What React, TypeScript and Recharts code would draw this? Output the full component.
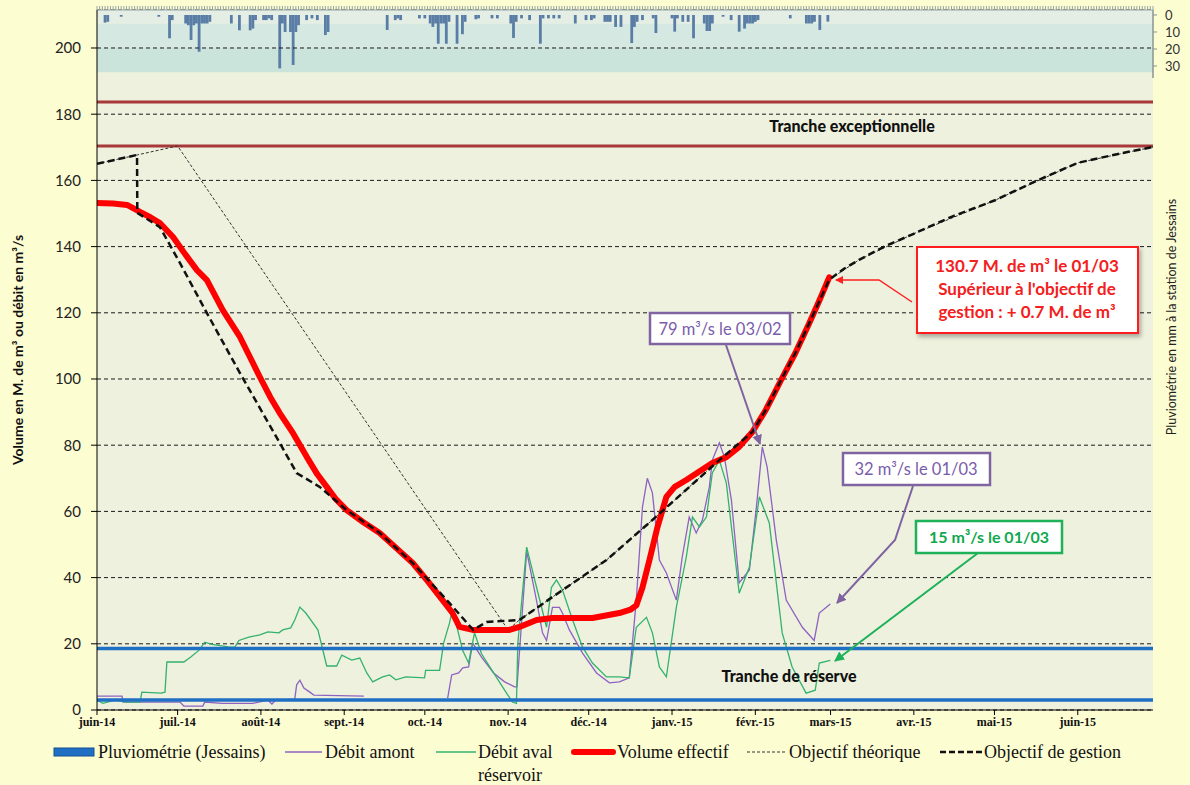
import React from 'react';
import { ComposedChart, Bar, Line, XAxis, YAxis, CartesianGrid, ReferenceLine, ReferenceArea } from 'recharts';

// x values are days counted from 1 June 2014
const monthTicks = [0, 30, 61, 92, 122, 153, 183, 214, 245, 273, 304, 334, 365];
const monthLabels = ['juin-14', 'juil.-14', 'août-14', 'sept.-14', 'oct.-14', 'nov.-14', 'déc.-14', 'janv.-15', 'févr.-15', 'mars-15', 'avr.-15', 'mai-15', 'juin-15'];
const volumeTicks = [0, 20, 40, 60, 80, 100, 120, 140, 160, 180, 200];
const rainTicks = [0, 10, 20, 30];
const dayTicks = Array.from({ length: 394 }, (_, i) => i);

// daily rain in mm (Jessains), only the rainy days
const rainfall: [number, number][] = [
  [3, 4.5], [4, 4], [9, 1], [23, 1], [27, 13.7], [28, 3],
  [33, 5], [34, 6], [35, 14.7], [36, 6], [37, 5], [38, 21.6], [39, 5], [40, 5], [41, 5], [42, 4],
  [50, 5], [53, 9], [57, 9], [58, 8], [59, 3],
  [62, 3], [63, 3], [64, 2], [65, 3],
  [68, 31.4], [69, 5], [70, 10], [72, 10], [73, 29.4], [74, 10], [75, 6],
  [78, 3], [80, 2], [82, 3], [85, 11.8], [86, 10],
  [108, 8.8], [111, 3], [112, 2], [113, 3],
  [120, 2], [122, 2], [124, 5], [125, 7], [126, 5], [127, 16.9], [128, 5], [129, 5], [130, 16.9], [131, 4], [134, 16.9], [136, 11.3], [137, 4],
  [141, 2.5], [142, 2], [147, 2], [149, 2],
  [154, 5], [155, 13.5], [156, 4], [158, 2], [161, 3], [165, 16.9], [166, 2], [168, 2], [170, 2], [172, 2],
  [178, 5], [182, 3], [184, 3], [185, 2], [189, 4], [190, 4], [191, 4], [193, 7], [195, 7],
  [199, 16.5], [200, 7], [201, 4], [203, 3],
  [207, 2], [208, 10.6], [214, 2], [215, 9.8], [216, 2], [218, 4], [220, 4], [222, 13.7],
  [226, 5], [227, 9.4], [228, 9.4], [229, 5], [233, 1], [236, 3], [239, 9.8],
  [241, 8], [242, 5], [243, 5], [244, 5], [245, 4], [246, 3],
  [258, 2], [264, 5], [265, 5], [266, 5], [267, 4], [269, 8.8], [272, 3.9],
];

// Volume effectif (M. de m3)
const volumeEffectif: [number, number][] = [
  [0, 153.2], [6, 153], [11.2, 152.6], [16, 150.5], [20, 148.8], [23.4, 147.1], [28.3, 142.9], [33, 137.5],
  [37.2, 132.9], [40.9, 129.9], [46.8, 120.8], [53.2, 112.7], [57, 106.5], [60.6, 100.6], [64.5, 94.5],
  [68, 89.7], [72.9, 83.7], [78.1, 76.4], [82, 71.2], [85.5, 67.4], [89, 63.6],
  [92.9, 60.4], [99, 56.8], [105.2, 53.5], [111, 49.2], [117.5, 44.4], [123, 39], [128.6, 33.2], [132.3, 29.3],
  [134.9, 25.1], [139.8, 24.2], [153.5, 24.2], [157.2, 25.1], [163.6, 27.2], [169.5, 27.8], [184.4, 27.8],
  [194.4, 29.3], [198.5, 30.3], [200.7, 31.6], [203, 37], [205.6, 45.3], [208.5, 55], [211.9, 64.4],
  [215, 67.4], [219.3, 69.5], [224, 72], [229, 74.6], [234.2, 76.4], [239, 79.5], [243.9, 84],
  [249, 90.8], [254.6, 99.7], [260, 108], [265.1, 116.9], [269, 124], [272.5, 130.7],
];

// Objectif de gestion
const objectifGestion: [number, number][] = [
  [0, 165], [14.9, 167.7], [15, 150.2], [23.4, 145.9], [30.9, 135], [40.9, 119.9], [53.2, 101.8],
  [68, 80.7], [74.3, 71.6], [82.9, 67.4], [92.9, 60.4], [105.2, 53.5], [117.5, 44.4], [131.2, 32.3],
  [140, 24.2], [145, 26.6], [157.2, 27.2], [172.1, 35.6], [189.6, 45.3], [206.7, 57.4], [231.6, 75.5],
  [243.9, 84], [249, 90.8], [254.6, 99.7], [260, 108], [265.1, 116.9], [272.5, 130], [278, 133.3],
  [283.6, 136], [293, 140], [303.7, 143.8], [318, 149], [334.2, 154], [350, 160], [365, 165.3],
  [380, 168], [393, 170.1],
];

// Objectif théorique
const objectifTheorique: [number, number][] = [
  [0, 165], [15, 167.7], [30, 170.4], [153, 24.2], [157.2, 27.2], [172.1, 35.6], [189.6, 45.3],
  [206.7, 57.4], [231.6, 75.5], [243.9, 84], [254.6, 99.7], [265.1, 116.9], [272.5, 130], [283.6, 136],
  [303.7, 143.8], [334.2, 154], [365, 165.3], [393, 170.1],
];

// Débit amont (m3/s)
const debitAmont: [number, number | null][] = [
  [0, 4.2], [9.3, 4.2], [9.7, 2.4], [30.9, 2.4], [32.3, 1.2], [39.4, 1.2], [40.1, 2.4], [46.5, 2],
  [58, 2], [63.6, 3], [65.1, 1.8], [66.5, 3], [73.6, 3.3], [74.3, 7.6], [75.5, 9], [77, 6.6],
  [79.2, 5.4], [80.7, 4.5], [99.3, 4.2], [115, null],
  [130.5, 3.6], [132, 10.6], [134.6, 11.2], [136.1, 12.7], [138.3, 13], [139.8, 20.2], [143.1, 16],
  [147.6, 11.2], [151.7, 8.5], [155.4, 7], [156.3, 7], [159.9, 48], [163.6, 33], [165.8, 23.3],
  [167.3, 21], [169.5, 31], [172.1, 31], [173.2, 29.3], [175.8, 24.2], [180.7, 17.2], [185.9, 11.2],
  [190.7, 8.2], [194.4, 8.5], [198.1, 9.7], [200.7, 33.2], [203, 61.3], [204.8, 70], [206.7, 65.6],
  [209.3, 45.3], [211.9, 41.4], [215.6, 33.2], [217.8, 46.2], [220.4, 58.3], [223, 53.5], [225.3, 57.4],
  [227.9, 67.4], [229, 75.5], [231.6, 80.7], [233.5, 76.4], [236.1, 63.4], [239, 38.4], [242.8, 42.3],
  [245.4, 61.3], [247.6, 79.5], [249.4, 73.4], [252.8, 51.4], [256.5, 33.2], [262.5, 25], [266.9, 21],
  [268.8, 29.3], [272.9, 32],
];

// Débit aval réservoir (m3/s)
const debitAval: [number, number][] = [
  [0, 3], [2.2, 2], [6.7, 3], [10.8, 2.4], [16, 2.4], [16.7, 5.4], [23.8, 5.1], [25.3, 5.4], [26, 14.5],
  [32.3, 14.5], [34.9, 16], [37.9, 18], [40.1, 20.5], [42.8, 19.8], [49.4, 19], [51.3, 19], [52.8, 21],
  [56.5, 22], [60.6, 22.7], [63.6, 23.6], [67.7, 23.3], [69.1, 24.2], [72.1, 24.8], [73.6, 27.2],
  [75.5, 31.1], [77.7, 29.3], [82.2, 24.2], [85.5, 13.3], [89.2, 13.3], [91.1, 16.6], [94.8, 15.1],
  [97.8, 15.7], [100.4, 11.2], [102.6, 8.5], [106.3, 10], [108.9, 10.6], [111.2, 9.1], [114.9, 10],
  [121.9, 9.7], [122.3, 12], [127.5, 12], [129, 20.2], [131.2, 26.3], [132.3, 30.5], [136.1, 18],
  [138.3, 14.2], [140.5, 23.3], [143.1, 17], [147.6, 11.2], [151.7, 6], [154.6, 2.4], [156.1, 2],
  [156.6, 20], [159.9, 49.2], [163.6, 37], [167.3, 25], [169.1, 37], [171, 39.3], [173.2, 36.3],
  [177, 27.2], [180.7, 19], [184.4, 14.2], [189.6, 10], [194.4, 10], [198.1, 9.7], [200.7, 25],
  [204.5, 28], [206.7, 23.3], [209.3, 13], [211.9, 10], [215.6, 31], [219.3, 46.2], [221.6, 58.3],
  [224.2, 55.3], [226.8, 58.3], [229, 71.6], [231.6, 75.5], [234.2, 68.6], [239, 35.3], [242.8, 43.2],
  [246.5, 64.4], [250.2, 56.5], [255, 23.3], [258.7, 13], [263.9, 5.1], [267.3, 6], [268.8, 14.2],
  [272.9, 15],
];

// reservoir bands (M. de m3)
const trancheExceptionnelle = [170.4, 183.7];
const trancheReserve = [3.0, 18.6];

const toRows = (pts: [number, number | null][]) => pts.map(([day, v]) => ({ day, v }));
const rainRows = rainfall.map(([day, mm]) => ({ day, rain: mm }));

const W = 1190;
const H = 785;
const PURPLE = '#8E62C2';
const GREEN = '#33B26E';
const BLUE = '#1F6FC5';
const BROWN = '#A8393A';
const RAIN = '#5A7DA6';

const fmtMonth = (v: number) => {
  const i = monthTicks.indexOf(v);
  return i >= 0 ? monthLabels[i] : '';
};

// one day wide bar, centred on the position recharts gives
const RainBar = (p: any) => {
  if (p.x == null || p.y == null) return null;
  const cx = p.x + (p.width || 0) / 2;
  const top = Math.min(p.y, p.y + p.height);
  const h = Math.abs(p.height);
  return <rect x={cx - 1.4} y={top} width={2.8} height={h} fill={RAIN} />;
};

export default function App() {
  const serif = '"Liberation Serif", "DejaVu Serif", serif';
  const sans = 'Lato, "Open Sans", sans-serif';
  return (
    <div style={{ position: 'absolute', left: 0, top: 0, width: W, height: H, background: '#FDFDD2', overflow: 'hidden' }}>
      <ComposedChart
        width={W}
        height={H}
        data={rainRows}
        margin={{ top: 6, right: 5, bottom: 50, left: 57 }}
        barGap={0}
        barCategoryGap={0}
      >
        <CartesianGrid yAxisId="left" vertical={false} stroke="#1a1a1a" strokeDasharray="4 3" fill="#EEF1DD" fillOpacity={1} />
        <ReferenceArea yAxisId="left" y1={207.3} y2={211.48} fill="#E4EEE5" fillOpacity={1} stroke="none" ifOverflow="visible" />
        <ReferenceArea yAxisId="left" y1={200} y2={207.3} fill="#D5E9E2" fillOpacity={1} stroke="none" />
        <ReferenceArea yAxisId="left" y1={192.7} y2={200} fill="#CAE4DC" fillOpacity={1} stroke="none" />
        <ReferenceLine yAxisId="left" y={200} stroke="#1a1a1a" strokeDasharray="4 3" />
        <XAxis
          dataKey="day"
          type="number"
          domain={[0, 393]}
          allowDataOverflow
          ticks={monthTicks}
          interval={0}
          tickFormatter={fmtMonth}
          height={25}
          stroke="#000"
          tickSize={5}
          tickMargin={2}
          tick={{ fontSize: 12, fontWeight: 'bold', fontFamily: serif, fill: '#111' }}
        />
        <XAxis
          xAxisId="top"
          orientation="top"
          dataKey="day"
          type="number"
          domain={[0, 393]}
          ticks={dayTicks}
          interval={0}
          tickFormatter={() => ''}
          tick={{ fontSize: 1 }}
          tickLine={{ stroke: '#95A3A3' }}
          axisLine={{ stroke: '#95A3A3' }}
          height={4}
          tickSize={4}
          tickMargin={0}
        />
        <YAxis
          yAxisId="left"
          type="number"
          domain={[0, 211.48]}
          allowDataOverflow
          ticks={volumeTicks}
          interval={0}
          width={40}
          stroke="#000"
          tickSize={6}
          tickMargin={10}
          tick={{ fontSize: 15, fontFamily: sans, fill: '#222' }}
        />
        <YAxis
          yAxisId="rain"
          orientation="right"
          type="number"
          reversed
          domain={[-2.94, 408.8]}
          allowDataOverflow
          ticks={rainTicks}
          interval={0}
          width={32}
          axisLine={false}
          stroke="#8A9494"
          tickSize={4}
          tickMargin={8}
          tick={{ fontSize: 13, fontFamily: sans, fill: '#333' }}
        />
        <ReferenceLine
          yAxisId="rain"
          segment={[{ x: 393, y: -2.94 }, { x: 393, y: 37 }]}
          stroke="#8A9494"
          strokeWidth={1.5}
        />
        <Bar yAxisId="rain" dataKey="rain" fill={RAIN} shape={RainBar} isAnimationActive={false} />
        <ReferenceLine yAxisId="left" y={trancheExceptionnelle[1]} stroke={BROWN} strokeWidth={3} />
        <ReferenceLine yAxisId="left" y={trancheExceptionnelle[0]} stroke={BROWN} strokeWidth={3} />
        <Line yAxisId="left" data={toRows(debitAmont)} dataKey="v" stroke={PURPLE} strokeWidth={1.3} dot={false} activeDot={false} isAnimationActive={false} />
        <Line yAxisId="left" data={toRows(debitAval)} dataKey="v" stroke={GREEN} strokeWidth={1.3} dot={false} activeDot={false} isAnimationActive={false} />
        <ReferenceLine yAxisId="left" y={trancheReserve[1]} stroke={BLUE} strokeWidth={3.5} />
        <ReferenceLine yAxisId="left" y={trancheReserve[0]} stroke={BLUE} strokeWidth={3.5} />
        <Line yAxisId="left" data={toRows(objectifTheorique)} dataKey="v" stroke="#333" strokeWidth={1} strokeDasharray="3 2" dot={false} activeDot={false} isAnimationActive={false} />
        <Line yAxisId="left" data={toRows(volumeEffectif)} dataKey="v" stroke="#FF0000" strokeWidth={6} strokeLinejoin="round" strokeLinecap="round" dot={false} activeDot={false} isAnimationActive={false} />
        <Line yAxisId="left" data={toRows(objectifGestion)} dataKey="v" stroke="#111" strokeWidth={2.5} strokeDasharray="7 4" dot={false} activeDot={false} isAnimationActive={false} />
      </ComposedChart>

      <svg width={W} height={H} style={{ position: 'absolute', left: 0, top: 0, pointerEvents: 'none' }}>
        <defs>
          <marker id="arR" markerWidth="8" markerHeight="8" refX="7" refY="4" orient="auto" markerUnits="userSpaceOnUse">
            <path d="M0,0 L8,4 L0,8 z" fill="#FF2020" />
          </marker>
          <marker id="arP" markerWidth="10" markerHeight="10" refX="9" refY="5" orient="auto" markerUnits="userSpaceOnUse">
            <path d="M0,0 L10,5 L0,10 z" fill="#8064A2" />
          </marker>
          <marker id="arG" markerWidth="10" markerHeight="10" refX="9" refY="5" orient="auto" markerUnits="userSpaceOnUse">
            <path d="M0,0 L10,5 L0,10 z" fill="#1DB15A" />
          </marker>
          <filter id="sh" x="-10%" y="-10%" width="130%" height="140%">
            <feDropShadow dx="2" dy="3" stdDeviation="2" floodColor="#000" floodOpacity="0.3" />
          </filter>
        </defs>

        {/* axis titles */}
        <text transform="translate(23,350) rotate(-90)" textAnchor="middle" fontFamily={sans} fontWeight="bold" fontSize={14} fill="#111">
          Volume en M. de m³ ou débit en m³/s
        </text>
        <text transform="translate(1176,317) rotate(-90)" textAnchor="middle" fontFamily={sans} fontSize={12.5} fill="#222">
          Pluviométrie en mm à la station de Jessains
        </text>

        {/* bands */}
        <text x={852} y={132} textAnchor="middle" fontFamily={sans} fontWeight="900" fontSize={16} fill="#111">Tranche exceptionnelle</text>
        <text x={789} y={682} textAnchor="middle" fontFamily={sans} fontWeight="900" fontSize={16} fill="#111">Tranche de réserve</text>

        {/* annotations */}
        <polyline points="912,302 879,280 836,280" fill="none" stroke="#FF2020" strokeWidth={1.5} markerEnd="url(#arR)" />
        <rect x={917} y={247} width={221} height={86} fill="#fff" stroke="#FF1A1A" strokeWidth={2} filter="url(#sh)" />
        <g fontFamily={sans} fontWeight="bold" fontSize={17} fill="#F42020" textAnchor="middle" xmlSpace="preserve">
          <text x={1027} y={272}>{'130.7 M. de m³  le  01/03'}</text>
          <text x={1027} y={295}>{"Supérieur à l'objectif de"}</text>
          <text x={1027} y={318}>{'gestion  : + 0.7 M. de m³'}</text>
        </g>

        <line x1={726} y1={345} x2={760} y2={444} stroke="#8064A2" strokeWidth={2} markerEnd="url(#arP)" />
        <rect x={650} y={313} width={140} height={31} fill="#fff" stroke="#8064A2" strokeWidth={2.5} />
        <text x={720} y={335} textAnchor="middle" fontFamily={sans} fontSize={16.5} fill="#7A5CAA">79 m³/s le 03/02</text>

        <polyline points="913,486 895,540 837,603" fill="none" stroke="#8064A2" strokeWidth={2} markerEnd="url(#arP)" />
        <rect x={843} y={453} width={147} height={32} fill="#fff" stroke="#8064A2" strokeWidth={2.5} />
        <text x={916} y={475} textAnchor="middle" fontFamily={sans} fontSize={16.5} fill="#7A5CAA">32 m³/s le 01/03</text>

        <line x1={978} y1={553} x2={835} y2={661} stroke="#1DB15A" strokeWidth={2} markerEnd="url(#arG)" />
        <rect x={916} y={521} width={146} height={32} fill="#fff" stroke="#1DB15A" strokeWidth={2.5} />
        <text x={989} y={543} textAnchor="middle" fontFamily={sans} fontWeight="bold" fontSize={16} fill="#10A84E">15 m³/s le 01/03</text>

        {/* legend */}
        <g fontFamily={serif} fontSize={18} fill="#111">
          <rect x={54} y={748} width={40} height={8} fill={BLUE} stroke="#174F8F" strokeWidth={1} />
          <text x={98} y={758}>Pluviométrie (Jessains)</text>
          <line x1={285} y1={752} x2={322} y2={752} stroke={PURPLE} strokeWidth={1.5} />
          <text x={325} y={758}>Débit amont</text>
          <line x1={436} y1={752} x2={476} y2={752} stroke={GREEN} strokeWidth={1.5} />
          <text x={478} y={758}>Débit aval</text>
          <text x={478} y={781}>réservoir</text>
          <line x1={574} y1={752} x2={613} y2={752} stroke="#FF0000" strokeWidth={6} strokeLinecap="round" />
          <text x={617} y={758}>Volume effectif</text>
          <line x1={747} y1={752} x2={787} y2={752} stroke="#333" strokeWidth={1.2} strokeDasharray="3 2" />
          <text x={789} y={758}>Objectif théorique</text>
          <line x1={940} y1={752} x2={982} y2={752} stroke="#111" strokeWidth={2.5} strokeDasharray="6 3" />
          <text x={984} y={758}>Objectif de gestion</text>
        </g>
      </svg>
    </div>
  );
}
